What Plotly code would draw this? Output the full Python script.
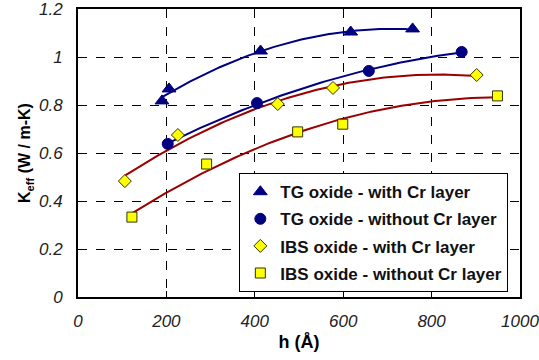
import numpy as np
import plotly.graph_objects as go

# Data
tg_cr_x = [190, 206, 413, 617, 757]
tg_cr_y = [0.817, 0.867, 1.025, 1.104, 1.117]

tg_nocr_x = [203, 405, 658, 868]
tg_nocr_y = [0.638, 0.808, 0.942, 1.021]

ibs_cr_x = [106, 226, 452, 577, 902]
ibs_cr_y = [0.483, 0.675, 0.804, 0.871, 0.925]

ibs_nocr_x = [122, 291, 497, 599, 949]
ibs_nocr_y = [0.333, 0.554, 0.688, 0.720, 0.838]

names = ["TG oxide - with Cr layer", "TG oxide - without Cr layer",
         "IBS oxide - with Cr layer", "IBS oxide - without Cr layer"]
x_ticks = [0, 200, 400, 600, 800, 1000]
y_ticks = [0, 0.2, 0.4, 0.6, 0.8, 1.0, 1.2]
y_ticklabels = ["0", "0.2", "0.4", "0.6", "0.8", "1", "1.2"]

NAVY = "#000080"
DRED = "#990000"
YEL = "#ffff00"

series = [
    (tg_cr_x, tg_cr_y, names[0], dict(symbol="triangle-up", size=12, color=NAVY, line=dict(width=1, color=NAVY)), NAVY),
    (tg_nocr_x, tg_nocr_y, names[1], dict(symbol="circle", size=11, color=NAVY, line=dict(width=1, color=NAVY)), NAVY),
    (ibs_cr_x, ibs_cr_y, names[2], dict(symbol="diamond", size=10, color=YEL, line=dict(width=1, color="#333300")), DRED),
    (ibs_nocr_x, ibs_nocr_y, names[3], dict(symbol="square", size=10, color=YEL, line=dict(width=1, color="#333300")), DRED),
]

fig = go.Figure()
# trendlines (2nd order polynomial fits)
for xs, ys, nm, mk, lc in series:
    c = np.polyfit(xs, ys, 2)
    xf = np.linspace(min(xs), max(xs), 100)
    fig.add_trace(go.Scatter(x=xf, y=np.polyval(c, xf), mode="lines",
                             line=dict(color=lc, width=2), showlegend=False,
                             hoverinfo="skip"))
for i, (xs, ys, nm, mk, lc) in enumerate(series):
    fig.add_trace(go.Scatter(x=xs, y=ys, mode="markers", name=nm, marker=mk,
                             legendgroup=str(i)))

font = "Liberation Sans, Arial, sans-serif"
common = dict(showgrid=True, gridcolor="black", griddash="dash", gridwidth=1,
              showline=True, linecolor="black", linewidth=2, mirror=True,
              zeroline=False, ticks="inside", ticklen=6, tickcolor="black",
              automargin=False, ticklabeloverflow="allow",
              tickfont=dict(size=17, style="italic", color="#222222"))
fig.update_layout(
    width=539, height=360,
    margin=dict(l=78, r=19, t=9, b=63),
    plot_bgcolor="white", paper_bgcolor="white",
    font=dict(family=font, color="black"),
    xaxis=dict(range=[0, 1000], tickvals=x_ticks, ticktext=[str(v) for v in x_ticks],
               ticklabelstandoff=8,
               title=dict(text="<b>h (Å)</b>", font=dict(size=18), standoff=5),
               **common),
    yaxis=dict(range=[0, 1.2], tickvals=y_ticks, ticktext=y_ticklabels,
               ticklabelstandoff=10,
               title=dict(text="<b>K<sub>eff</sub> (W / m-K)</b>", font=dict(size=16), standoff=4),
               **common),
    legend=dict(x=0.365, y=0.43, xanchor="left", yanchor="top",
                bgcolor="white", bordercolor="black", borderwidth=1,
                font=dict(size=17, weight="bold", color="#111111"), tracegroupgap=2,
                traceorder="grouped", itemwidth=30),
)
fig.write_html("out.html")
